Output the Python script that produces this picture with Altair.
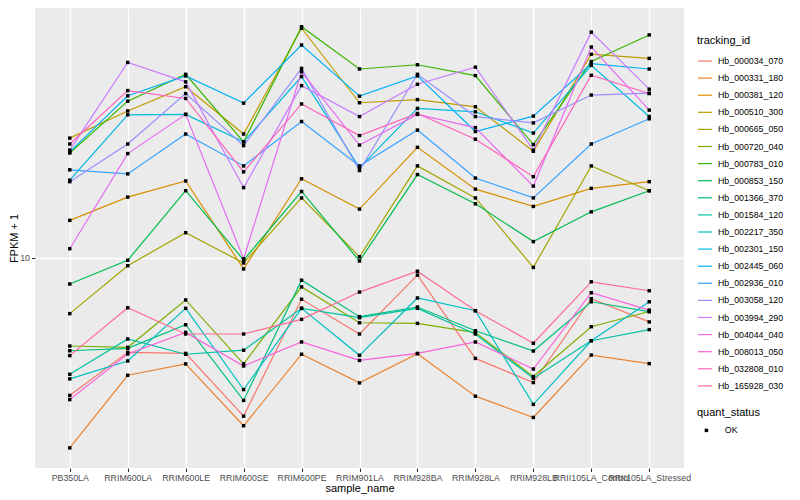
import altair as alt
import pandas as pd

samples = ["PB350LA", "RRIM600LA", "RRIM600LE", "RRIM600SE", "RRIM600PE", "RRIM901LA",
           "RRIM928BA", "RRIM928LA", "RRIM928LB", "RRII105LA_Control", "RRII105LA_Stressed"]

tracking_ids = ["Hb_000034_070", "Hb_000331_180", "Hb_000381_120", "Hb_000510_300", "Hb_000665_050",
                "Hb_000720_040", "Hb_000783_010", "Hb_000853_150", "Hb_001366_370", "Hb_001584_120",
                "Hb_002217_350", "Hb_002301_150", "Hb_002445_060", "Hb_002936_010", "Hb_003058_120",
                "Hb_003994_290", "Hb_004044_040", "Hb_008013_050", "Hb_032808_010", "Hb_165928_030"]

# FPKM + 1 values, one list per gene, in sample order
hb_000034_070 = [3.47, 4.83, 4.79, 2.96, 7.26, 5.56, 8.74, 4.61, 3.83, 7.29, 6.10]
hb_000331_180 = [2.32, 4.05, 4.42, 2.75, 4.76, 3.82, 4.78, 3.45, 2.93, 4.73, 4.43]
hb_000381_120 = [13.3, 15.9, 18.0, 9.16, 18.3, 14.5, 23.3, 16.9, 14.8, 17.0, 17.9]
hb_000510_300 = [25.0, 30.8, 37.1, 25.8, 58.1, 32.8, 33.6, 31.8, 22.6, 47.6, 46.1]
hb_000665_050 = [6.50, 9.39, 12.1, 9.59, 15.8, 10.06, 20.2, 15.8, 9.27, 20.2, 16.7]
hb_000720_040 = [5.07, 5.02, 7.22, 4.42, 7.98, 6.06, 6.03, 5.62, 4.01, 5.88, 6.61]
hb_000783_010 = [22.3, 33.2, 40.8, 24.3, 58.8, 42.5, 43.9, 40.4, 23.8, 45.0, 55.2]
hb_000853_150 = [8.16, 9.79, 16.7, 9.81, 16.6, 9.74, 18.9, 15.1, 11.3, 14.2, 16.7]
hb_001366_370 = [4.89, 4.98, 5.97, 3.34, 8.40, 6.35, 6.84, 5.70, 4.88, 7.12, 6.60]
hb_001584_120 = [4.08, 5.35, 4.76, 4.91, 6.77, 6.30, 6.77, 5.56, 3.96, 5.28, 5.75]
hb_002217_350 = [3.94, 4.52, 6.77, 3.63, 6.77, 4.72, 7.33, 6.65, 3.24, 5.28, 7.12]
hb_002301_150 = [18.1, 29.9, 30.0, 24.3, 40.1, 19.9, 31.4, 30.6, 26.0, 43.7, 29.5]
hb_002445_060 = [22.5, 34.6, 40.3, 32.7, 51.1, 34.5, 40.3, 26.3, 29.6, 44.3, 42.5]
hb_002936_010 = [19.6, 19.0, 25.8, 20.2, 28.4, 20.2, 26.6, 18.4, 15.8, 23.9, 29.0]
hb_003058_120 = [17.9, 23.9, 35.2, 23.6, 42.7, 19.5, 40.8, 29.5, 28.1, 34.8, 35.3]
hb_003994_290 = [22.8, 44.7, 38.5, 17.1, 37.4, 29.5, 37.8, 43.1, 22.8, 56.4, 36.4]
hb_004044_040 = [10.7, 22.2, 30.0, 9.9, 41.6, 23.7, 30.0, 27.1, 17.3, 50.3, 31.0]
hb_008013_050 = [3.36, 4.77, 5.63, 4.35, 5.23, 4.54, 4.79, 5.23, 4.25, 7.63, 6.68]
hb_032808_010 = [23.9, 36.0, 33.9, 19.3, 32.5, 25.5, 30.2, 24.8, 18.6, 40.5, 35.2]
hb_165928_030 = [4.71, 6.80, 5.56, 5.56, 6.22, 7.67, 9.00, 6.65, 5.18, 8.30, 7.75]

series = [hb_000034_070, hb_000331_180, hb_000381_120, hb_000510_300, hb_000665_050,
          hb_000720_040, hb_000783_010, hb_000853_150, hb_001366_370, hb_001584_120,
          hb_002217_350, hb_002301_150, hb_002445_060, hb_002936_010, hb_003058_120,
          hb_003994_290, hb_004044_040, hb_008013_050, hb_032808_010, hb_165928_030]

palette = ["#F8766D", "#EA8331", "#D89000", "#C09B00", "#A3A500", "#7CAE00", "#39B600",
           "#00BB4E", "#00BF7D", "#00C1A3", "#00BFC4", "#00BAE0", "#00B0F6", "#35A2FF",
           "#9590FF", "#C77CFF", "#E76BF3", "#FA62DB", "#FF62BC", "#FF6C91"]

rows = []
for tid, vals in zip(tracking_ids, series):
    for i, (s, v) in enumerate(zip(samples, vals)):
        rows.append({"tracking_id": tid, "sample_name": s, "idx": i, "fpkm": v, "quant_status": "OK"})
df = pd.DataFrame(rows)

FONT = "Liberation Sans, Arial, Helvetica, sans-serif"

x_enc = alt.X("sample_name:N", sort=samples,
              scale=alt.Scale(type="point", padding=0.6),
              axis=alt.Axis(title="sample_name", labelAngle=0, labelFontSize=8.8,
                            labelColor="#4D4D4D", labelFont=FONT, labelPadding=2,
                            tickColor="#333333", tickSize=3.5, tickWidth=1.1,
                            domain=False, grid=True, gridColor="white", gridWidth=1.4,
                            titleFont=FONT, titleFontSize=11, titleFontWeight="normal",
                            titleColor="black", titlePadding=0))
y_enc = alt.Y("fpkm:Q",
              scale=alt.Scale(type="log", domain=[1.988, 67.87], nice=False, zero=False),
              axis=alt.Axis(title="FPKM + 1", values=[10], format=".0f", labelFontSize=8.8,
                            labelColor="#4D4D4D", labelFont=FONT, labelPadding=2,
                            tickColor="#333333", tickSize=3.5, tickWidth=1.1,
                            domain=False, grid=True, gridColor="white", gridWidth=1.4,
                            titleFont=FONT, titleFontSize=11, titleFontWeight="normal",
                            titleColor="black", titlePadding=0))

base = alt.Chart(df)

lines = base.mark_line(strokeWidth=1.2).encode(
    x=x_enc,
    y=y_enc,
    order=alt.Order("idx:Q"),
    color=alt.Color("tracking_id:N", sort=tracking_ids,
                    scale=alt.Scale(domain=tracking_ids, range=palette),
                    legend=alt.Legend(title="tracking_id", orient="none", legendX=662, legendY=27,
                                      symbolType="stroke", symbolSize=196, symbolStrokeWidth=1.2,
                                      labelFont=FONT, labelFontSize=8.8, labelColor="black",
                                      labelOffset=5, titleFont=FONT, titleFontSize=11,
                                      titleFontWeight="normal", titleColor="black",
                                      titlePadding=7, rowPadding=4.1, padding=0)),
)

points = base.mark_point(shape="square", filled=True, color="black", size=12, opacity=1).encode(
    x=x_enc,
    y=y_enc,
    shape=alt.Shape("quant_status:N", scale=alt.Scale(domain=["OK"], range=["square"]),
                    legend=alt.Legend(title="quant_status", orient="none", legendX=662, legendY=399,
                                      symbolSize=12, symbolFillColor="black", symbolStrokeColor="black",
                                      symbolOffset=5, labelFont=FONT, labelFontSize=8.8,
                                      labelColor="black", labelOffset=14, titleFont=FONT,
                                      titleFontSize=11, titleFontWeight="normal", titleColor="black",
                                      titlePadding=8, padding=0)),
)

chart = alt.layer(lines, points).properties(
    width=649, height=460,
    padding={"left": 27, "top": 0, "right": 108, "bottom": 30},
    autosize=alt.AutoSizeParams(type="none"),
    background="white",
).configure_view(fill="#EBEBEB", strokeWidth=0)

chart.save("out.html", embed_options={"renderer": "svg", "actions": False})
